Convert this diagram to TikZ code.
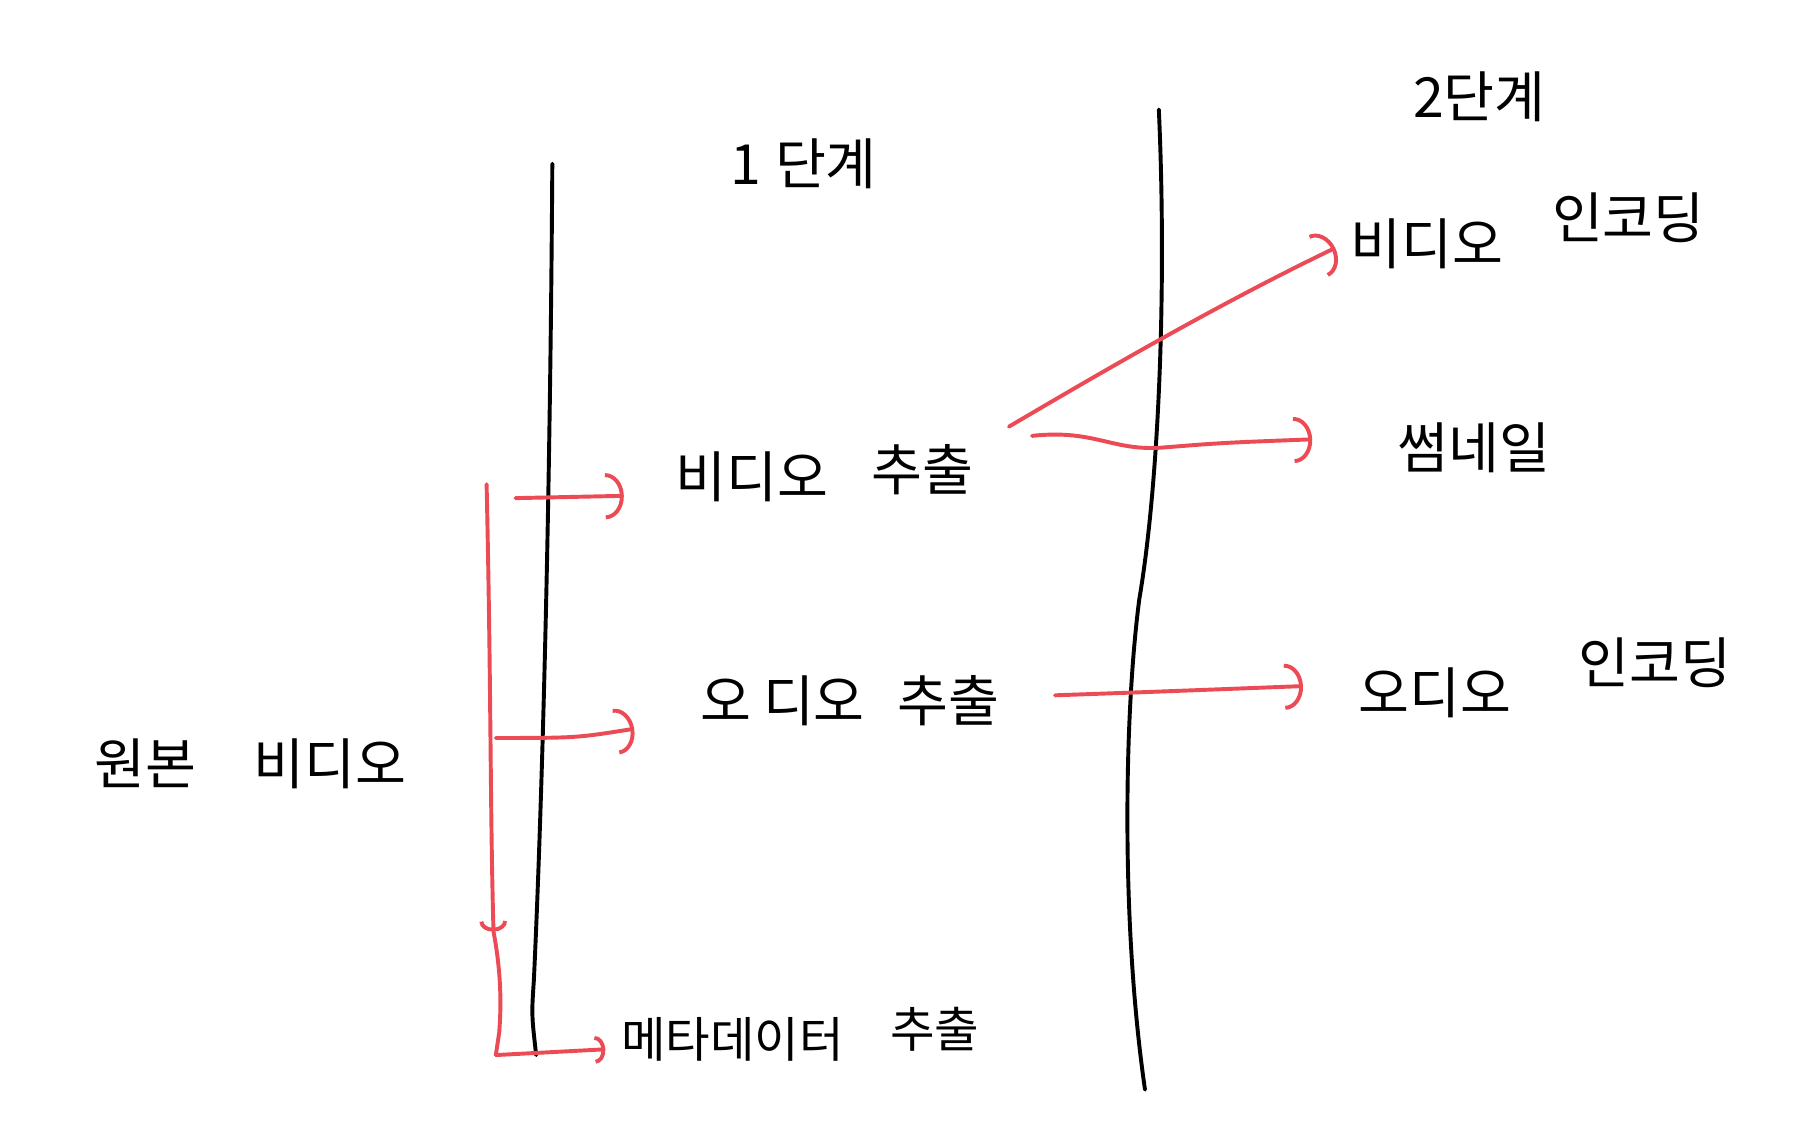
\documentclass[tikz,border=0pt]{standalone}
\usepackage{fontspec}
\newfontfamily\kr{Noto Sans CJK KR}
\usetikzlibrary{arrows.meta}
\definecolor{pen}{RGB}{236,74,84}
\begin{document}
\begin{tikzpicture}[x=1pt,y=-1pt,
  lbl/.style={font=\kr\fontsize{48}{52}\selectfont, inner sep=0pt},
  ink/.style={line width=3.4pt, line cap=round, line join=round},
  redink/.style={ink, draw=pen},
  tip/.style={-{Arc Barb[length=16pt,width=40pt,line width=3.4pt]}},
  smalltip/.style={-{Arc Barb[length=9pt,width=24pt,line width=3.4pt]}}]
\fill[white] (0,0) rectangle (1568,983);
\useasboundingbox (0,0) rectangle (1568,983);

% stage divider lines
\coordinate (l1a) at (479,142);
\coordinate (l1b) at (465,915);
\coordinate (l2a) at (1005,95);
\coordinate (l2b) at (993,945);
\draw[ink] (l1a) .. controls (477,450) and (470,700) .. (463,850) .. controls (461,880) .. (l1b);
\draw[ink] (l2a) .. controls (1012,250) and (1005,420) .. (988,520) .. controls (975,620) and (972,800) .. (l2b);

% labels
\node[lbl] (s1) at (697,142) {1\hspace{12pt}단계};
\node[lbl] (s2) at (1283,84) {2단계};
\node[lbl] (venc) at (1325,200) {비디오\hspace{42pt}\raisebox{22pt}{인코딩}};
\node[lbl] (thumb) at (1278,388) {썸네일};
\node[lbl] (aenc) at (1340,588) {오디오\hspace{58pt}\raisebox{26pt}{인코딩}};
\node[lbl] (vext) at (715,410) {비디오\hspace{38pt}\raisebox{6pt}{추출}};
\node[lbl] (aext) at (737,608) {오\hspace{10pt}디오\hspace{28pt}추출};
\node[lbl,font=\kr\fontsize{42}{48}\selectfont] (mext) at (694,897) {메타데이터\hspace{40pt}\raisebox{8pt}{추출}};
\node[lbl] (src) at (217,662) {원본\hspace{50pt}비디오};

% red tree from source
\coordinate (ta) at (422,420);
\coordinate (tm) at (428,808);
\coordinate (tb) at (430,915);
\coordinate (b1s) at (447,432);
\coordinate (b1e) at (541,430);
\coordinate (b2s) at (430,640);
\coordinate (b2e) at (550,632);
\coordinate (b3e) at (525,910);
\draw[redink,smalltip] (ta) .. controls (426,600) and (425,700) .. (tm);
\draw[redink] (tm) .. controls (436,850) and (434,880) .. (433,895) .. controls (432,905) .. (tb);
\draw[redink,smalltip] (tb) -- (b3e);
\draw[redink,tip] (b1s) -- (b1e);
\draw[redink,tip] (b2s) .. controls (500,640) .. (b2e);

% red arrows to stage 2
\coordinate (r1s) at (875,370);
\coordinate (r1e) at (1158,215);
\coordinate (r2s) at (895,378);
\coordinate (r2e) at (1138,381);
\coordinate (r3s) at (915,603);
\coordinate (r3e) at (1130,595);
\draw[redink,tip] (r1s) .. controls (960,320) and (1060,262) .. (r1e);
\draw[redink,tip] (r2s) .. controls (950,372) and (965,392) .. (1010,388) .. controls (1060,384) .. (r2e);
\draw[redink,tip] (r3s) .. controls (1000,600) .. (r3e);
\end{tikzpicture}
\end{document}
